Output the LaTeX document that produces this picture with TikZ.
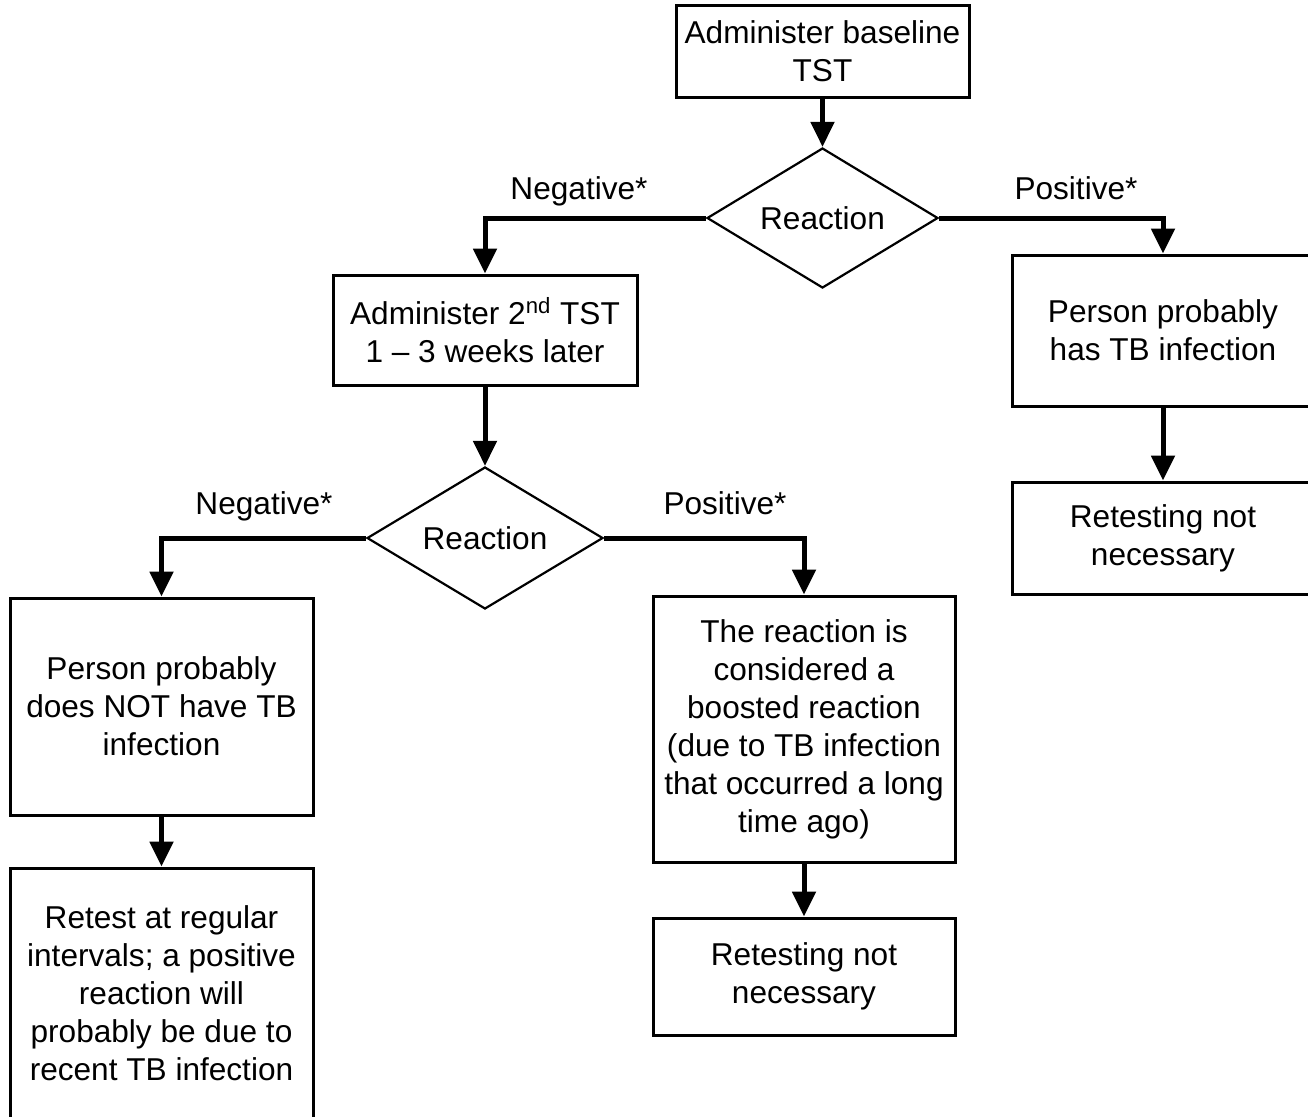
\documentclass[tikz,border=0pt]{standalone}
\usepackage{fontspec}
\setmainfont{Liberation Sans}
\usetikzlibrary{shapes.geometric,arrows.meta}

\begin{document}
\begin{tikzpicture}[x=0.5pt,y=-0.5pt,
  font=\fontsize{15.8}{19}\selectfont,
  box/.style={draw, line width=1.5pt, align=center, inner sep=0pt},
  decide/.style={draw, diamond, aspect=1.65, line width=1.1pt, inner sep=0pt},
  flow/.style={line width=2.5pt, -{Triangle[width=11.5pt,length=12.5pt]}},
  lbl/.style={inner sep=0pt, anchor=base}]
\useasboundingbox (0,0) rectangle (1308,1116);

\node[box, minimum width=146.5pt, minimum height=46pt] (base) at (822.5,51) {Administer baseline\\TST};
\node[decide, minimum width=115.5pt, minimum height=70pt] (react1) at (822.5,218) {Reaction};
\path[draw,flow] (base.south) -- (react1.north);

\node[box, minimum width=152pt, minimum height=55pt] (second) at (485,330) {Administer 2\textsuperscript{nd} TST\\1 -- 3 weeks later};
\node[lbl] (negA) at (579,199) {Negative*};
\path[draw,flow] (react1.west) -| (second.north);

\node[box, minimum width=151pt, minimum height=75.5pt] (haspos) at (1163,330.5) {Person probably\\has TB infection};
\node[lbl] (posA) at (1076,199) {Positive*};
\path[draw,flow] (react1.east) -| (haspos.north);

\node[box, minimum width=151pt, minimum height=56pt] (notneedA) at (1163,538) {Retesting not\\necessary};
\path[draw,flow] (haspos.south) -- (notneedA.north);

\node[decide, minimum width=118pt, minimum height=71pt] (react2) at (485,538) {Reaction};
\path[draw,flow] (second.south) -- (react2.north);

\node[box, minimum width=151.5pt, minimum height=108.5pt] (notTB) at (161.5,706.5) {Person probably\\does NOT have TB\\infection};
\node[lbl] (negB) at (264,514) {Negative*};
\path[draw,flow] (react2.west) -| (notTB.north);

\node[box, minimum width=151.5pt, minimum height=125pt] (retest) at (161.5,993) {Retest at regular\\intervals; a positive\\reaction will\\probably be due to\\recent TB infection};
\path[draw,flow] (notTB.south) -- (retest.north);

\node[box, minimum width=151pt, minimum height=133pt] (boosted) at (804,729) {The reaction is\\considered a\\boosted reaction\\(due to TB infection\\that occurred a long\\time ago)};
\node[lbl] (posB) at (725,514) {Positive*};
\path[draw,flow] (react2.east) -| (boosted.north);

\node[box, minimum width=151pt, minimum height=58.5pt] (notneedB) at (804,976.5) {Retesting not\\necessary};
\path[draw,flow] (boosted.south) -- (notneedB.north);
\end{tikzpicture}
\end{document}
